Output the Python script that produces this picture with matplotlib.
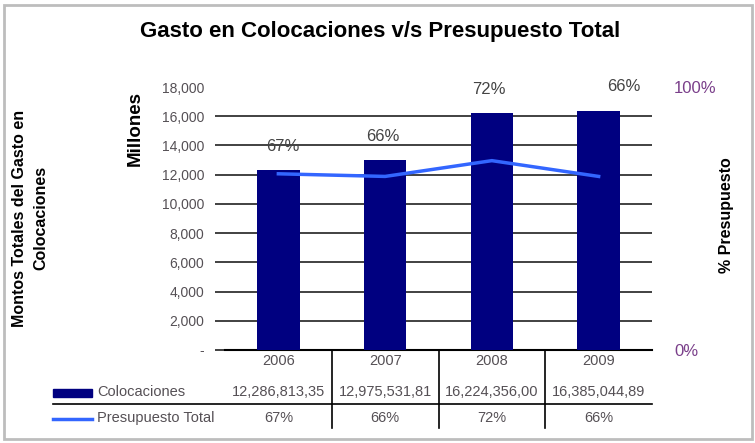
import matplotlib
matplotlib.use('Agg')
import matplotlib.pyplot as plt
import numpy as np
from matplotlib.patches import Rectangle
from matplotlib.lines import Line2D
from matplotlib.transforms import blended_transform_factory

plt.rcParams['font.family'] = ['Liberation Sans', 'DejaVu Sans']

years = ['2006', '2007', '2008', '2009']
# gasto en colocaciones (miles de pesos)
colocaciones = [12286813.35, 12975531.81, 16224356.00, 16385044.89]
# porcentaje del presupuesto total
presupuesto = [0.67, 0.66, 0.72, 0.66]

millones = [v / 1000 for v in colocaciones]

def fmt_monto(v):
    s = f'{v:,.2f}'
    return s[:-3] + ',' + s[-2:]

navy = '#000080'
blue = '#3366ff'
grid_c = '#333333'
txt_c = '#555055'
purple = '#7a3f8a'

fig = plt.figure(figsize=(7.55, 4.43), dpi=100)
ax = fig.add_axes([0.298, 0.2099, 0.5656, 0.5937])

x = np.arange(len(years))
ax.bar(x, millones, width=0.4, color=navy, zorder=3)
ax.set_xlim(-0.5, 3.5)
ax.set_ylim(0, 18000)
ticks = list(range(0, 16001, 2000))
ax.set_yticks(ticks)
ax.set_yticklabels(['-' if t == 0 else f'{t:,}' for t in ticks])
# 18,000 solo lleva etiqueta, sin linea de grilla
ax.set_yticks([18000], minor=True)
ax.set_yticklabels(['18,000'], minor=True)
ax.set_xticks([])
ax.grid(axis='y', which='major', color=grid_c, lw=1.3)
ax.set_axisbelow(True)
ax.tick_params(axis='y', which='major', length=7, width=1.3, color=grid_c, pad=8,
               labelsize=10, labelcolor=txt_c)
ax.tick_params(axis='y', which='minor', length=0, pad=15, labelsize=10, labelcolor=txt_c)
for s in ['left', 'right', 'top']:
    ax.spines[s].set_visible(False)
ax.spines['bottom'].set_color('black')
ax.spines['bottom'].set_linewidth(1.5)

ax2 = ax.twinx()
ax2.plot(x, presupuesto, color=blue, lw=2.5)
ax2.set_ylim(0, 1)
ax2.set_yticks([0, 1])
ax2.set_yticklabels(['0%', '100%'])
ax2.tick_params(axis='y', length=0, pad=16, labelsize=12, labelcolor=purple)
for s in ax2.spines.values():
    s.set_visible(False)

# etiquetas de porcentaje sobre las barras
dx = [3, -2, -2, 18]
for i, (h, p) in enumerate(zip(millones, presupuesto)):
    ax.annotate(f'{p:.0%}', (i, h), xytext=(dx[i], 17), textcoords='offset points',
                ha='center', va='center', fontsize=12, color='#444444')

# tabla de datos bajo el eje
trans = blended_transform_factory(ax.transData, ax.transAxes)
for i in range(len(years)):
    ax.text(i, -0.042, years[i], transform=trans, ha='center', va='center',
            fontsize=10.5, color=txt_c)
    ax.text(i, -0.16, fmt_monto(colocaciones[i]), transform=trans, ha='center',
            va='center', fontsize=10.5, color=txt_c)
    ax.text(i, -0.259, f'{presupuesto[i]:.0%}', transform=trans, ha='center',
            va='center', fontsize=10.5, color=txt_c)
for b in [0.5, 1.5, 2.5]:
    ax.plot([b, b], [0, -0.297], transform=trans, color='black', lw=1.2, clip_on=False)

fig.add_artist(Line2D([53 / 755, 652 / 755], [0.088, 0.088], color='black', lw=1.2))
fig.add_artist(Rectangle((53 / 755, 1 - 397 / 443), 39 / 755, 8 / 443, color=navy))
fig.add_artist(Line2D([53 / 755, 92 / 755], [1 - 419 / 443] * 2, color=blue, lw=2.5))
fig.text(97 / 755, 1 - 392 / 443, 'Colocaciones', ha='left', va='center',
         fontsize=10.5, color=txt_c)
fig.text(97 / 755, 1 - 418 / 443, 'Presupuesto Total', ha='left', va='center',
         fontsize=10.5, color=txt_c)

fig.text(0.503, 0.928, 'Gasto en Colocaciones v/s Presupuesto Total', ha='center',
         va='center', fontsize=16, fontweight='bold')
fig.text(0.04, 0.508, 'Montos Totales del Gasto en\nColocaciones', rotation=90,
         ha='center', va='center', multialignment='center', linespacing=1.45,
         fontsize=11.5, fontweight='bold')
fig.text(0.179, 0.709, 'Millones', rotation=90, ha='center', va='center',
         fontsize=13.5, fontweight='bold')
fig.text(727 / 755, 1 - 215 / 443, '% Presupuesto', rotation=90, ha='center',
         va='center', fontsize=11.5, fontweight='bold')

fig.add_artist(Rectangle((0.0053, 0.009), 0.9907, 0.98, transform=fig.transFigure,
                         fill=False, edgecolor='#bdbdbd', lw=2))

fig.savefig('out.png', dpi=100)
